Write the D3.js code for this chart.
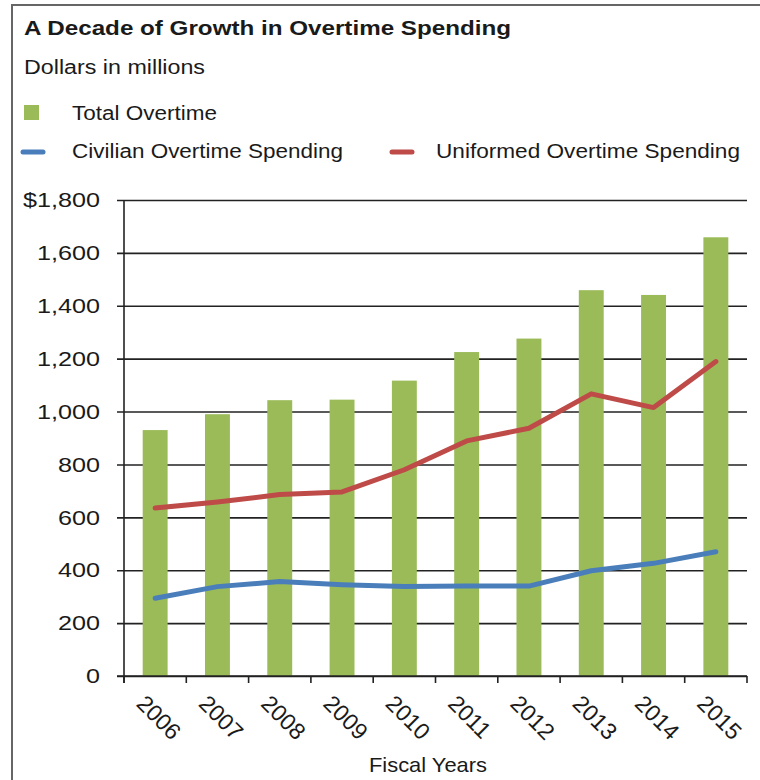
<!DOCTYPE html>
<html>
<head>
<meta charset="utf-8">
<script src="https://cdnjs.cloudflare.com/ajax/libs/d3/7.8.5/d3.min.js"></script>
<style>
  body { margin: 0; background: #fff; }
  svg { display: block; }
  text { font-family: "Liberation Sans", Arial, sans-serif; fill: #1a1a1a; }
</style>
</head>
<body>
<div id="chart"></div>
<script>
// data (dollars in millions)
var years = ['2006', '2007', '2008', '2009', '2010', '2011', '2012', '2013', '2014', '2015'];
var totalOvertime = [930, 990, 1043, 1045, 1117, 1225, 1276, 1459, 1441, 1659];
var civilian = [294, 338, 357, 345, 338, 340, 340, 398, 426, 470];
var uniformed = [635, 658, 686, 696, 780, 889, 937, 1067, 1015, 1189];
var yTicks = [0, 200, 400, 600, 800, 1000, 1200, 1400, 1600, 1800];

var W = 760, H = 780;
var margin = { left: 124, right: 13, top: 200, bottom: 104 };
var pw = W - margin.left - margin.right;
var ph = H - margin.top - margin.bottom;

var green = '#9bbb59', blue = '#4a7ebb', red = '#be4b48';

var svg = d3.select('#chart').append('svg')
    .attr('width', W)
    .attr('height', H);

// frame
svg.append('path')
    .attr('d', 'M12,' + H + 'V5H' + W)
    .attr('fill', 'none')
    .attr('stroke', '#666')
    .attr('stroke-width', 2);

// text stretched to the measured width
function label(x, y, size, len, str) {
    return svg.append('text')
        .attr('x', x).attr('y', y)
        .attr('textLength', len)
        .attr('lengthAdjust', 'spacingAndGlyphs')
        .style('font-size', size + 'px')
        .text(str);
}

label(24, 35, 21, 487, 'A Decade of Growth in Overtime Spending')
    .style('font-weight', 'bold');
label(24, 74, 20, 181, 'Dollars in millions');

// legend
svg.append('rect')
    .attr('x', 24).attr('y', 105)
    .attr('width', 15).attr('height', 15)
    .attr('fill', green);
label(72, 120, 20, 145, 'Total Overtime');

var legLines = [
    { x: 23, tx: 72, len: 271, color: blue, label: 'Civilian Overtime Spending' },
    { x: 392, tx: 436, len: 304, color: red, label: 'Uniformed Overtime Spending' }
];
legLines.forEach(function(d) {
    svg.append('line')
        .attr('x1', d.x).attr('x2', d.x + 20)
        .attr('y1', 152).attr('y2', 152)
        .attr('stroke', d.color)
        .attr('stroke-width', 5)
        .attr('stroke-linecap', 'round');
    label(d.tx, 158, 20, d.len, d.label);
});

var g = svg.append('g')
    .attr('transform', 'translate(' + margin.left + ',' + margin.top + ')');

var x = d3.scaleBand().domain(years).range([0, pw]);
var y = d3.scaleLinear().domain([0, 1800]).range([ph, 0]);

// gridlines + y labels
var yAxis = g.append('g')
    .call(d3.axisLeft(y)
        .tickValues(yTicks)
        .tickSize(-pw - 7)
        .tickFormat(function(d) {
            return (d === 1800 ? '$' : '') + d3.format(',')(d);
        }))
    .attr('transform', 'translate(' + (-7) + ',0)');
yAxis.select('.domain').remove();
yAxis.selectAll('.tick line')
    .attr('x1', 0)
    .attr('x2', pw + 7)
    .attr('stroke', '#222')
    .attr('stroke-width', 1.6);
yAxis.selectAll('.tick text')
    .attr('x', -14.2)
    .attr('transform', 'scale(1.2,1)')
    .style('font-size', '21px')
    .attr('fill', '#1a1a1a');

// bars
var barW = x.bandwidth() * 0.4;
g.selectAll('.bar')
    .data(years)
    .enter().append('rect')
    .attr('class', 'bar')
    .attr('x', function(d) { return x(d) + (x.bandwidth() - barW) / 2; })
    .attr('y', function(d, i) { return y(totalOvertime[i]); })
    .attr('width', barW)
    .attr('height', function(d, i) { return ph - y(totalOvertime[i]); })
    .attr('fill', green);

// x axis (ticks at category boundaries)
var xa = g.append('g').attr('transform', 'translate(0,' + ph + ')');
xa.append('line')
    .attr('x1', -7).attr('x2', pw)
    .attr('stroke', '#222').attr('stroke-width', 1.6);
xa.selectAll('.xt')
    .data(years.concat(['end']))
    .enter().append('line')
    .attr('x1', function(d, i) { return i * x.step(); })
    .attr('x2', function(d, i) { return i * x.step(); })
    .attr('y1', 0).attr('y2', 7)
    .attr('stroke', '#222').attr('stroke-width', 1.6);
xa.selectAll('.xl')
    .data(years)
    .enter().append('text')
    .attr('transform', function(d) {
        return 'translate(' + (x(d) + x.bandwidth() / 2 - 20) + ',29) rotate(45)';
    })
    .style('font-size', '23px')
    .text(function(d) { return d; });

// y axis line
g.append('line')
    .attr('x1', 0).attr('x2', 0)
    .attr('y1', 0).attr('y2', ph + 7)
    .attr('stroke', '#222').attr('stroke-width', 1.6);

// lines
var line = d3.line()
    .x(function(d, i) { return x(years[i]) + x.bandwidth() / 2; })
    .y(function(d) { return y(d); });

[[uniformed, red], [civilian, blue]].forEach(function(s) {
    g.append('path')
        .datum(s[0])
        .attr('d', line)
        .attr('fill', 'none')
        .attr('stroke', s[1])
        .attr('stroke-width', 5)
        .attr('stroke-linecap', 'round')
        .attr('stroke-linejoin', 'round');
});

label(369, 772, 21, 118, 'Fiscal Years');
</script>
</body>
</html>
